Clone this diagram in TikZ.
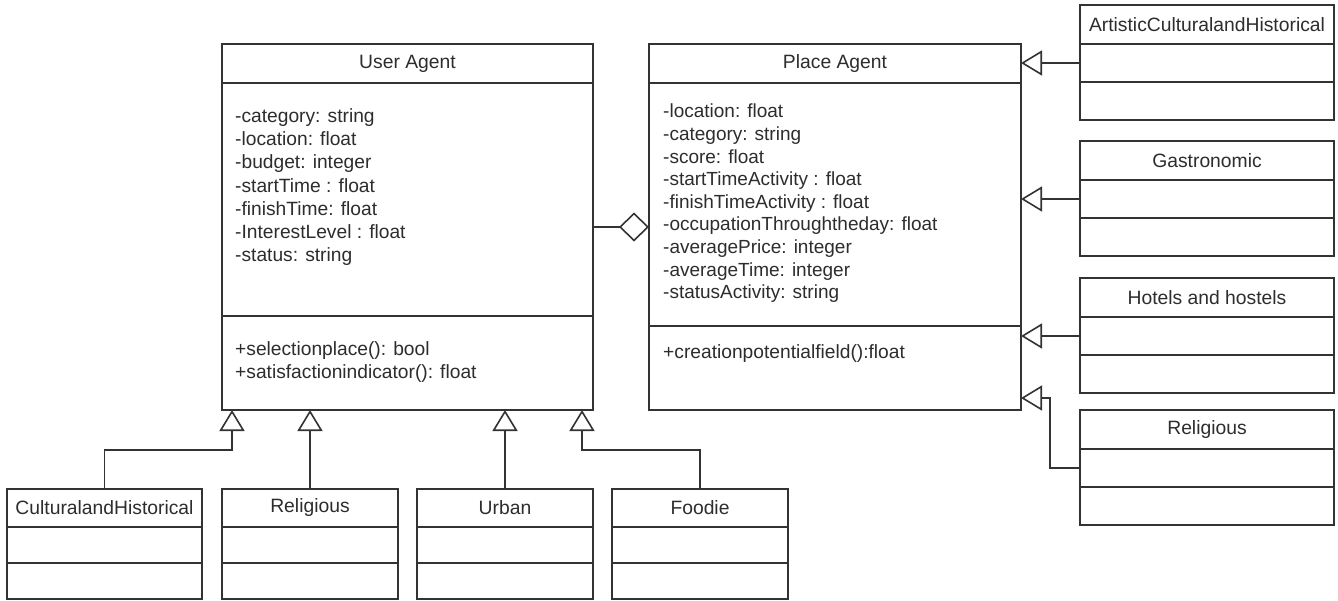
\documentclass[tikz,border=0pt]{standalone}
\usepackage{fontspec}
\setmainfont{Liberation Sans}
\usepackage{tikz}
\usetikzlibrary{arrows.meta, positioning}
\definecolor{umlline}{RGB}{51, 51, 51}
\definecolor{umltext}{RGB}{45, 45, 45}

\begin{document}
\begin{tikzpicture}[
  x=1pt, y=-1pt,
  every node/.style={font=\fontsize{19.3}{23}\selectfont, text=umltext},
  cls/.style={
    draw=umlline, line width=1.6pt, inner sep=0pt, outer sep=0pt
  },
  members/.style={inner sep=0pt, align=left, anchor=north west},
  inherit/.style={draw=umlline, line width=1.6pt,
    -{Triangle[open, length=21pt, width=25pt]}},
  aggr/.style={draw=umlline, line width=1.6pt,
    {Diamond[open, length=30pt, width=29pt]}-}
]
  \useasboundingbox[fill=white] (0,0) rectangle (1338,600);

  % User Agent
  \node[cls, minimum width=371pt, minimum height=39pt, anchor=north west] (uTitle) at (222,44) {User Agent};
  \node[cls, minimum width=371pt, minimum height=233pt, below=0pt of uTitle] (uAttr) {};
  \node[cls, minimum width=371pt, minimum height=94pt, below=0pt of uAttr] (uOps) {};
  \node[members, below right=25pt and 13pt of uAttr.north west, font=\fontsize{19.2}{23.3}\selectfont] (uAttrTxt)
    {-category: string\\-location: float\\-budget: integer\\-startTime : float\\-finishTime: float\\-InterestLevel : float\\-status: string};
  \node[members, below right=25pt and 13pt of uOps.north west, font=\fontsize{19.2}{23}\selectfont] (uOpsTxt)
    {+selectionplace(): bool\\+satisfactionindicator(): float};

  % Place Agent
  \node[cls, minimum width=372pt, minimum height=39pt, anchor=north west] (pTitle) at (649,44) {Place Agent};
  \node[cls, minimum width=372pt, minimum height=243pt, below=0pt of pTitle] (pAttr) {};
  \node[cls, minimum width=372pt, minimum height=84pt, below=0pt of pAttr] (pOps) {};
  \node[members, below right=21pt and 14pt of pAttr.north west, font=\fontsize{19}{22.6}\selectfont] (pAttrTxt)
    {-location: float\\-category: string\\-score: float\\-startTimeActivity : float\\-finishTimeActivity : float\\-occupationThroughtheday: float\\-averagePrice: integer\\-averageTime: integer\\-statusActivity: string};
  \node[members, below right=18pt and 14pt of pOps.north west, font=\fontsize{19.2}{23}\selectfont] (pOpsTxt)
    {+creationpotentialfield():float};

  % Place Agent subclasses (right column)
  \node[cls, minimum width=254pt, minimum height=39pt, anchor=north west] (rArtT) at (1080,5) {ArtisticCulturalandHistorical};
  \node[cls, minimum width=254pt, minimum height=38pt, below=0pt of rArtT] (rArtM) {};
  \node[cls, minimum width=254pt, minimum height=38pt, below=0pt of rArtM] (rArtB) {};

  \node[cls, minimum width=254pt, minimum height=39pt, anchor=north west] (rGasT) at (1080,141) {Gastronomic};
  \node[cls, minimum width=254pt, minimum height=38pt, below=0pt of rGasT] (rGasM) {};
  \node[cls, minimum width=254pt, minimum height=38pt, below=0pt of rGasM] (rGasB) {};

  \node[cls, minimum width=254pt, minimum height=39pt, anchor=north west] (rHotT) at (1080,278) {Hotels and hostels};
  \node[cls, minimum width=254pt, minimum height=38pt, below=0pt of rHotT] (rHotM) {};
  \node[cls, minimum width=254pt, minimum height=38pt, below=0pt of rHotM] (rHotB) {};

  \node[cls, minimum width=254pt, minimum height=39pt, anchor=north west] (rRelT) at (1080,410) {Religious};
  \node[cls, minimum width=254pt, minimum height=38pt, below=0pt of rRelT] (rRelM) {};
  \node[cls, minimum width=254pt, minimum height=38pt, below=0pt of rRelM] (rRelB) {};

  % User Agent subclasses (bottom row)
  \node[cls, minimum width=195pt, minimum height=38pt, anchor=north west] (cCultT) at (7,489) {CulturalandHistorical};
  \node[cls, minimum width=195pt, minimum height=36pt, below=0pt of cCultT] (cCultM) {};
  \node[cls, minimum width=195pt, minimum height=36pt, below=0pt of cCultM] (cCultB) {};

  \node[cls, minimum width=176pt, minimum height=38pt, anchor=north west] (cRelT) at (222,489) {Religious};
  \node[cls, minimum width=176pt, minimum height=36pt, below=0pt of cRelT] (cRelM) {};
  \node[cls, minimum width=176pt, minimum height=36pt, below=0pt of cRelM] (cRelB) {};

  \node[cls, minimum width=176pt, minimum height=38pt, anchor=north west] (cUrbT) at (417,489) {Urban};
  \node[cls, minimum width=176pt, minimum height=36pt, below=0pt of cUrbT] (cUrbM) {};
  \node[cls, minimum width=176pt, minimum height=36pt, below=0pt of cUrbM] (cUrbB) {};

  \node[cls, minimum width=176pt, minimum height=38pt, anchor=north west] (cFoodT) at (612,489) {Foodie};
  \node[cls, minimum width=176pt, minimum height=36pt, below=0pt of cFoodT] (cFoodM) {};
  \node[cls, minimum width=176pt, minimum height=36pt, below=0pt of cFoodM] (cFoodB) {};

  % Aggregation
  \draw[aggr] ([yshift=-22.5pt]pAttr.west) -- ([yshift=-22.5pt]pAttr.west -| uAttr.east);

  % Generalisations to User Agent
  \draw[inherit] (cCultT.north) -- ++(0,-39) -| ([xshift=10pt]uOps.south west);
  \draw[inherit] (cRelT.north) -- (cRelT.north |- uOps.south);
  \draw[inherit] (cUrbT.north) -- (cUrbT.north |- uOps.south);
  \draw[inherit] (cFoodT.north) -- ++(0,-39) -| ([xshift=-11pt]uOps.south east);

  % Generalisations to Place Agent
  \draw[inherit] (rArtM.west) -- (rArtM.west -| pTitle.east);
  \draw[inherit] (rGasM.west) -- (rGasM.west -| pAttr.east);
  \draw[inherit] (rHotM.west) -- (rHotM.west -| pOps.east);
  \draw[inherit] (rRelM.west) -- ++(-30,0) |- ([yshift=-30pt]pOps.east);

\end{tikzpicture}
\end{document}
